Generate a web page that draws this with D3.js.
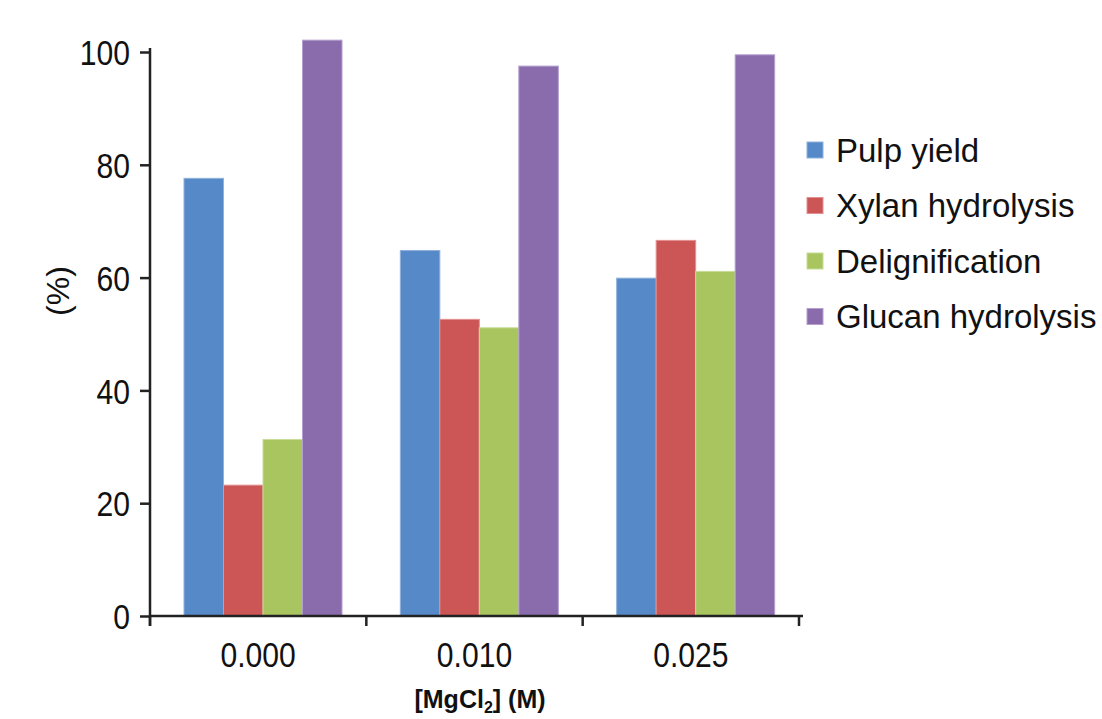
<!DOCTYPE html>
<html>
<head>
<meta charset="utf-8">
<script src="https://cdn.jsdelivr.net/npm/d3@7"></script>
<style>
  html, body { margin: 0; padding: 0; background: #fff; }
  svg { display: block; font-family: "Liberation Sans", Arial, Helvetica, sans-serif; }
</style>
</head>
<body>
<svg id="chart" width="1102" height="719"></svg>
<script>
// MgCl2 concentration groups (M)
const categories = ["0.000", "0.010", "0.025"];
const seriesNames = ["Pulp yield", "Xylan hydrolysis", "Delignification", "Glucan hydrolysis"];
const seriesColors = ["#5689c7", "#cc5555", "#a8c560", "#8a6cad"];
const seriesStrokes = ["#8fb1dc", "#e39090", "#c8dc98", "#b49fcf"];

// percent values per series, one per MgCl2 level
const pulpYield = [77.6, 64.8, 59.9];
const xylanHydrolysis = [23.2, 52.6, 66.6];
const delignification = [31.3, 51.1, 61.1];
const glucanHydrolysis = [102.1, 97.5, 99.5];

const yTicks = [0, 20, 40, 60, 80, 100];
const yTitle = "(%)";

const seriesValues = [pulpYield, xylanHydrolysis, delignification, glucanHydrolysis];

const svg = d3.select("#chart");
const axisColor = "#222";

const y = d3.scaleLinear().domain([0, 100]).range([616, 52]);
const x0 = d3.scaleBand().domain(categories).range([150, 799]).padding(0);
const x1 = d3.scaleBand().domain(seriesNames).range([34, 192]).padding(0);

// bars
const groups = svg.append("g").selectAll("g")
  .data(categories)
  .join("g")
  .attr("transform", d => `translate(${x0(d)},0)`);

groups.selectAll("rect")
  .data((c, ci) => seriesNames.map((s, si) => ({ s, si, v: seriesValues[si][ci] })))
  .join("rect")
  .attr("x", d => x1(d.s))
  .attr("width", x1.bandwidth())
  .attr("y", d => y(d.v))
  .attr("height", d => y(0) - y(d.v))
  .attr("fill", d => seriesColors[d.si])
  .attr("stroke", d => seriesStrokes[d.si])
  .attr("stroke-width", 1);

// y axis
const yAxis = svg.append("g")
  .attr("transform", "translate(150,0)")
  .call(d3.axisLeft(y).tickValues(yTicks).tickSize(10).tickPadding(10).tickFormat(d3.format("d")));
yAxis.select(".domain").attr("stroke", axisColor).attr("stroke-width", 2.5)
  .attr("d", `M0,${y(100) - 4}V${y(0) + 10}`);
yAxis.selectAll(".tick line").attr("stroke", axisColor).attr("stroke-width", 2.5);
yAxis.selectAll(".tick text")
  .attr("fill", "#111")
  .style("font-size", "35px")
  .each(function () {
    const t = d3.select(this);
    const x = +t.attr("x");
    t.attr("x", 0).attr("dy", "0.36em").attr("transform", `translate(${x},0) scale(0.86,1)`);
  });

// x axis: baseline, boundary ticks, centred category labels
const xAxis = svg.append("g");
const xEnd = x0.range()[1];
xAxis.append("line")
  .attr("x1", x0.range()[0]).attr("x2", xEnd + 4)
  .attr("y1", y(0)).attr("y2", y(0))
  .attr("stroke", axisColor).attr("stroke-width", 2.5);
const boundaries = categories.map(c => x0(c)).concat([xEnd]);
xAxis.selectAll("line.tick")
  .data(boundaries)
  .join("line")
  .attr("class", "tick")
  .attr("x1", d => d).attr("x2", d => d)
  .attr("y1", y(0)).attr("y2", y(0) + 10)
  .attr("stroke", axisColor).attr("stroke-width", 2.5);
xAxis.selectAll("text")
  .data(categories)
  .join("text")
  .attr("transform", d => `translate(${x0(d) + x0.bandwidth() / 2},667) scale(0.86,1)`)
  .attr("text-anchor", "middle")
  .attr("fill", "#111")
  .style("font-size", "35px")
  .text(d => d);

// axis titles
svg.append("text")
  .attr("transform", "translate(69,291) rotate(-90)")
  .attr("text-anchor", "middle")
  .attr("fill", "#111")
  .style("font-size", "32px")
  .text(yTitle);

const xt = svg.append("text")
  .attr("transform", "translate(480,708)")
  .attr("text-anchor", "middle")
  .attr("fill", "#111")
  .style("font-size", "25px")
  .style("font-weight", "bold");
xt.append("tspan").text("[MgCl");
xt.append("tspan").attr("dy", 5).style("font-size", "16px").text("2");
xt.append("tspan").attr("dy", -5).text("] (M)");

// legend
const legend = svg.append("g").attr("transform", "translate(807,150)");
const rows = legend.selectAll("g")
  .data(seriesNames)
  .join("g")
  .attr("transform", (d, i) => `translate(0,${i * 55.5})`);
rows.append("rect")
  .attr("x", 0).attr("y", -8).attr("width", 16).attr("height", 16)
  .attr("fill", (d, i) => seriesColors[i])
  .attr("stroke", (d, i) => seriesStrokes[i]).attr("stroke-width", 1);
rows.append("text")
  .attr("x", 29).attr("dy", "0.35em")
  .attr("fill", "#111")
  .style("font-size", "33px")
  .text(d => d);
</script>
</body>
</html>
